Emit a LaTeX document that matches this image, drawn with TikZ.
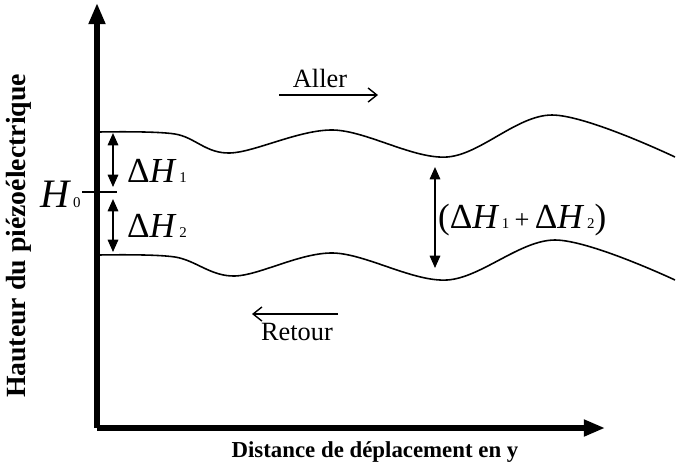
\documentclass[tikz,border=0pt]{standalone}
\usepackage{fontspec}
\setmainfont{Liberation Serif}
\usepackage{tikz}
\usetikzlibrary{arrows.meta,positioning,calc}
\newcommand{\dH}[1]{Δ\textit{H}\kern1.5pt\raisebox{0ex}{\fontsize{8.5}{9}\selectfont #1}}

\begin{document}
\begin{tikzpicture}[x=0.02cm,y=-0.02cm, >=Stealth,
  axe/.style={line width=2.9pt,-{Triangle[length=12pt,width=9pt]}},
  cote/.style={line width=0.9pt,{Triangle[length=7pt,width=6pt]}-{Triangle[length=7pt,width=6pt]}},
  sens/.style={line width=0.8pt,-{Straight Barb[length=5pt,width=8pt]}},
  surf/.style={line width=0.9pt},
  grand/.style={font=\fontsize{20}{22}\selectfont,inner sep=1pt},
  etiq/.style={font=\fontsize{15}{17}\selectfont,inner sep=1pt}]
\useasboundingbox (0,0) rectangle (681,468);
% --- axes ---
  \coordinate (O) at (97,428);
  \coordinate (ytop) at (97,3);
  \coordinate (xend) at (605,428);
  \draw[axe] (O)--(ytop);
  \draw[axe] (O)--(xend);
  \node[font=\bfseries\fontsize{15.8}{18}\selectfont,rotate=90] (ylab) at (19,236) {Hauteur du piézoélectrique};
  \node[font=\bfseries\fontsize{13}{15}\selectfont] (xlab) at (375,452) {Distance de déplacement en y};
% --- surfaces aller / retour ---
  \draw[surf] plot[smooth,tension=0.55] coordinates {(99,132) (175,134) (230,153) (333,130) (447,157) (552,115) (675,157)};
  \draw[surf] plot[smooth,tension=0.55] coordinates {(99,255) (175,257) (235,276) (333,253) (447,280) (555,240) (675,280)};
% --- H0 ---
  \coordinate (t1) at (82,192);
  \coordinate (t2) at (117,192);
  \draw[line width=0.8pt] (t1)--(t2);
  \node[font=\fontsize{23}{26}\selectfont,inner sep=0pt,anchor=base east] (h0) at (81,207) {\textit{H}\kern1pt{\fontsize{8.5}{9}\selectfont 0}};
% --- hauteurs ---
  \coordinate (a1) at (113,133);
  \coordinate (b1) at (113,187);
  \coordinate (a2) at (113,199);
  \coordinate (b2) at (113,252);
  \draw[cote] (a1)--(b1);
  \draw[cote] (a2)--(b2);
  \node[grand,anchor=base west] (dh1) at (125,182) {\dH{1}};
  \node[grand,anchor=base west] (dh2) at (125,237) {\dH{2}};
  \coordinate (a3) at (435,167);
  \coordinate (b3) at (435,268);
  \draw[cote] (a3)--(b3);
  \node[grand,anchor=base west] (dhs) at (436,228) {(\dH{1}\kern3pt{\fontsize{15}{16}\selectfont+}\kern3pt\dH{2})};
% --- sens de balayage ---
  \coordinate (al1) at (279,95);
  \coordinate (al2) at (378,95);
  \draw[sens] (al1)--(al2);
  \node[etiq] (aller) at (320,78) {Aller};
  \coordinate (re1) at (338,314);
  \coordinate (re2) at (252,314);
  \draw[sens] (re1)--(re2);
  \node[etiq] (retour) at (297,332) {Retour};
\end{tikzpicture}
\end{document}
